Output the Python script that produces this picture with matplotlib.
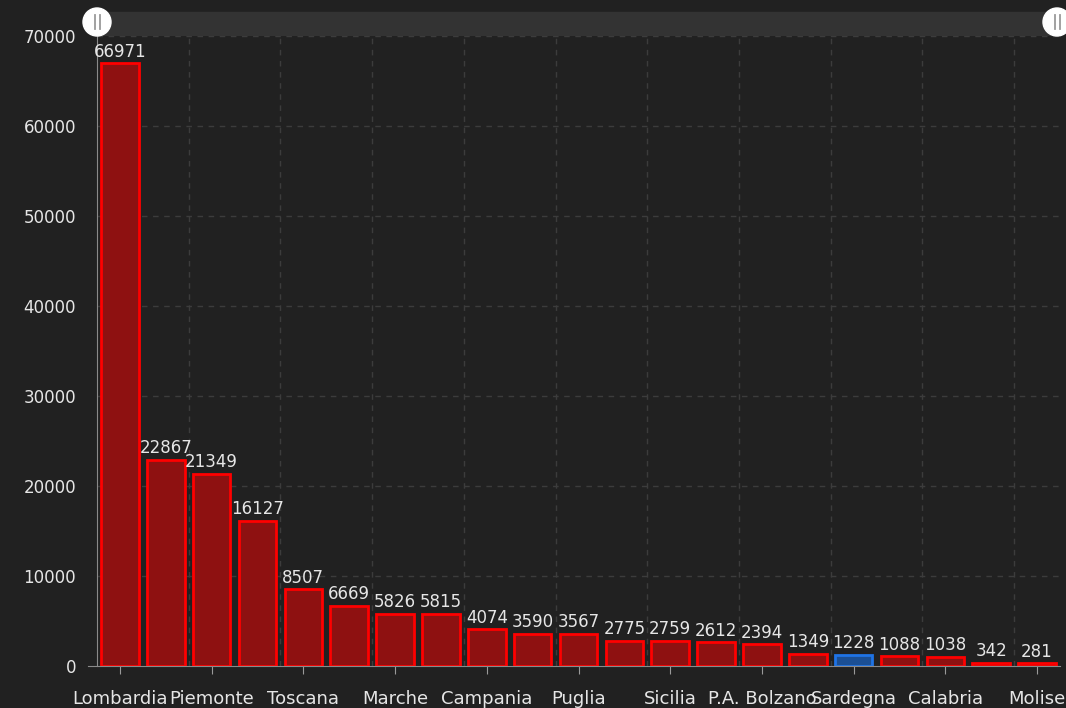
import matplotlib.pyplot as plt
from matplotlib.patches import Ellipse, Rectangle
from matplotlib.lines import Line2D

regions = ["Lombardia", "Emilia-Romagna", "Piemonte", "Veneto", "Toscana",
           "Liguria", "Marche", "Lazio", "Campania", "P.A. Trento", "Puglia",
           "Friuli Venezia Giulia", "Sicilia", "Abruzzo", "P.A. Bolzano",
           "Umbria", "Sardegna", "Valle d'Aosta", "Calabria", "Basilicata",
           "Molise"]
cases = [66971, 22867, 21349, 16127, 8507, 6669, 5826, 5815, 4074, 3590,
         3567, 2775, 2759, 2612, 2394, 1349, 1228, 1088, 1038, 342, 281]
highlight = "Sardegna"

bg = "#212121"
txt = "#e6e6e6"
W, H = 1066, 708

fig = plt.figure(figsize=(W / 100, H / 100), dpi=100, facecolor=bg)
ax = fig.add_axes([97 / W, 42 / H, 963 / W, 630 / H])
ax.set_facecolor(bg)

x = list(range(len(regions)))
fills = ["#1b4f94" if r == highlight else "#8e1111" for r in regions]
edges = ["#1f74e6" if r == highlight else "#ff0000" for r in regions]
ax.bar(x, cases, width=0.82, color=fills, edgecolor=edges, linewidth=2)

for xi, v in zip(x, cases):
    ax.text(xi, v + 300, str(v), ha="center", va="bottom", color=txt, fontsize=12)

ax.set_xlim(-0.5, len(regions) - 0.5)
ax.set_ylim(0, 70000)
ax.set_yticks(range(0, 70001, 10000))
ax.set_xticks(x[::2])
ax.set_xticklabels(regions[::2])
ax.tick_params(colors="#9a9a9a", labelcolor=txt, length=6)
ax.tick_params(axis="x", pad=11, labelsize=13)
ax.tick_params(axis="y", length=0, pad=15, labelsize=12)

for yv in range(10000, 70001, 10000):
    ax.axhline(yv, color="#3c3c3c", linestyle=(0, (4, 4)), linewidth=1, zorder=0)
for xb in [i - 0.5 for i in range(2, len(regions), 2)]:
    ax.axvline(xb, color="#3c3c3c", linestyle=(0, (4, 4)), linewidth=1, zorder=0)

for side in ["top", "right"]:
    ax.spines[side].set_visible(False)
for side in ["left", "bottom"]:
    ax.spines[side].set_color("#8a8a8a")
ax.spines["bottom"].set_bounds(-0.7, len(regions) - 0.5)

# zoom slider on top
fig.add_artist(Rectangle((97 / W, 672 / H), 963 / W, 24 / H,
                         transform=fig.transFigure, color="#333333", zorder=0))
for cx in [97, 1057]:
    cy = 686
    fig.add_artist(Ellipse((cx / W, cy / H), 28 / W, 28 / H,
                           transform=fig.transFigure, color="white", zorder=5))
    for dx in [-2.5, 2.5]:
        fig.add_artist(Line2D([(cx + dx) / W] * 2, [(cy - 7) / H, (cy + 7) / H],
                              transform=fig.transFigure, color="#9a9a9a",
                              lw=1.3, zorder=6))

fig.savefig("out.png", dpi=100, facecolor=bg)
